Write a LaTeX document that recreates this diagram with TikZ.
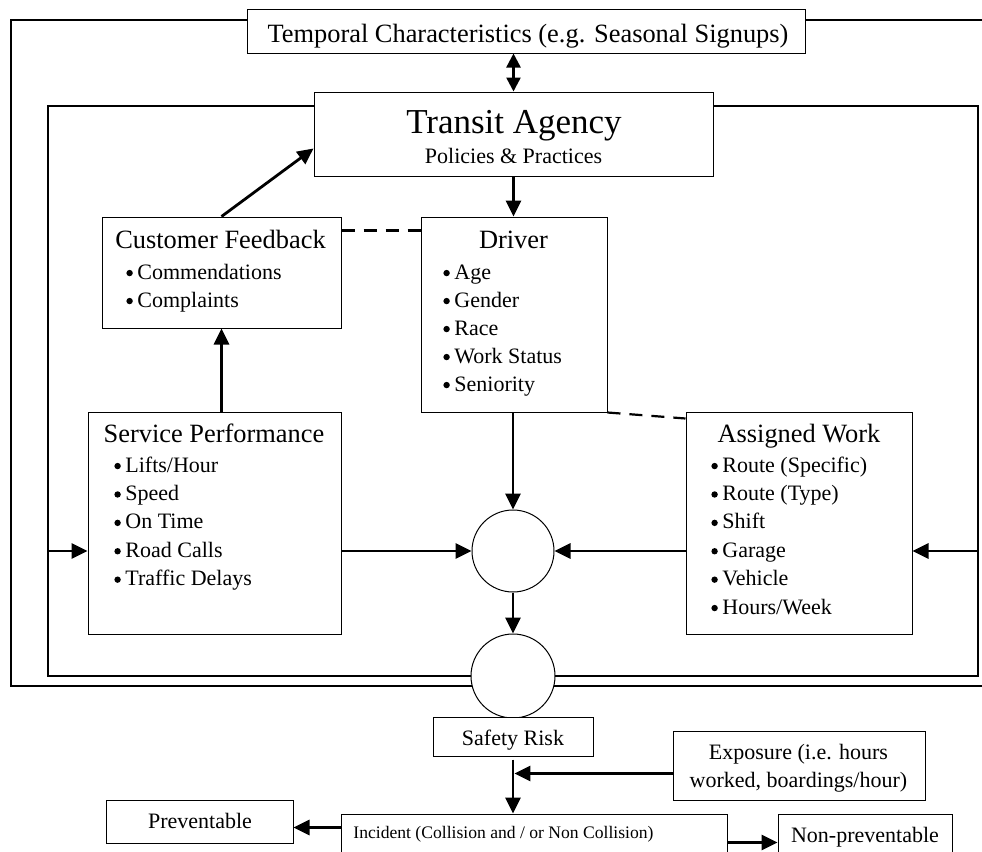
\documentclass[tikz,border=0pt]{standalone}
\usepackage{fontspec}
\setmainfont{Liberation Serif}
\usetikzlibrary{arrows.meta,calc}
\newcommand{\bul}{\tikz[baseline=0pt]\fill (1.6pt,0.27em) circle (1.6pt);\hspace{2.3pt}}
\begin{document}
\begin{tikzpicture}[x=0.5pt,y=-0.5pt,
  box/.style={draw,line width=0.5pt,fill=white,inner sep=0pt,rectangle},
  circ/.style={draw,line width=0.5pt,fill=white,inner sep=0pt,circle},
  frame/.style={line width=1pt},
  arr/.style={line width=1.4pt,-{Triangle[length=8pt,width=7.5pt]}},
  darr/.style={line width=1.2pt,{Triangle[length=7pt,width=7pt]}-{Triangle[length=7pt,width=7pt]}},
  dashline/.style={line width=1.1pt,dash pattern=on 6.5pt off 4.5pt},
  ttl/.style={font=\fontsize{13.2}{16}\selectfont,anchor=base,inner sep=0pt},
  big/.style={font=\fontsize{17.5}{21}\selectfont,anchor=base,inner sep=0pt},
  itm/.style={font=\fontsize{11}{13}\selectfont,anchor=base west,inner sep=0pt},
  txt/.style={font=\fontsize{11}{13}\selectfont,anchor=base,inner sep=0pt},
  sml/.style={font=\fontsize{8.8}{11}\selectfont,anchor=base west,inner sep=0pt}
]
\useasboundingbox (0,0) rectangle (982,852);
\clip (0,0) rectangle (982,852);
% frames
\coordinate (oTR) at (982,20); \coordinate (oTL) at (11,20);
\coordinate (oBL) at (11,686); \coordinate (oBR) at (982,686);
\draw[frame] (oTR) -- (oTL) -- (oBL) -- (oBR);
\coordinate (iTL) at (48,106); \coordinate (iBR) at (978,676);
\draw[frame] (iTL) rectangle (iBR);
% boxes
\node[box,minimum width=279pt,minimum height=22pt] (Temporal) at (526,31) {};
\node[box,minimum width=199.5pt,minimum height=42pt] (Transit) at (513.5,134) {};
\node[box,minimum width=119.5pt,minimum height=55.5pt] (CF) at (221.5,272.5) {};
\node[box,minimum width=93pt,minimum height=97.5pt] (Driver) at (514,314.5) {};
\node[box,minimum width=126.5pt,minimum height=111pt] (SP) at (214.5,523) {};
\node[box,minimum width=113pt,minimum height=111pt] (AW) at (799,523) {};
\node[circ,minimum size=41pt] (c1) at (513,551) {};
\node[circ,minimum size=42pt] (c2) at (513,676) {};
\node[box,minimum width=80pt,minimum height=19.5pt] (SR) at (513,736.5) {};
\node[box,minimum width=126pt,minimum height=34.5pt] (Expo) at (799,765.5) {};
\node[box,minimum width=193pt,minimum height=40pt] (Inc) at (534,854) {};
\node[box,minimum width=87pt,minimum height=40pt] (NP) at (865,854) {};
\node[box,minimum width=93.5pt,minimum height=21.5pt] (Prev) at (199.5,821.5) {};
% texts
\node[ttl] (tempt) at (528,42) {Temporal Characteristics (e.g. Seasonal Signups)};
\node[big] (trt) at (514,133) {Transit Agency};
\node[txt] (trs) at (513.5,163) {Policies \& Practices};
\node[ttl] (cft) at (220.5,248) {Customer Feedback};
\foreach \t [count=\i from 0] in {Commendations,Complaints}
  \node[itm] (cf\i) at (126,279+28*\i) {\bul\t};
\node[ttl] (drt) at (513.5,248) {Driver};
\foreach \t [count=\i from 0] in {Age,Gender,Race,Work Status,Seniority}
  \node[itm] (dr\i) at (443,279+28*\i) {\bul\t};
\node[ttl] (spt) at (214,442) {Service Performance};
\foreach \t [count=\i from 0] in {Lifts/Hour,Speed,On Time,Road Calls,Traffic Delays}
  \node[itm] (sp\i) at (114,472+28.4*\i) {\bul\t};
\node[ttl] (awt) at (799,442) {Assigned Work};
\foreach \t [count=\i from 0] in {{Route (Specific)},{Route (Type)},Shift,Garage,Vehicle,Hours/Week}
  \node[itm] (aw\i) at (711,472+28.4*\i) {\bul\t};
\node[txt] (srt) at (513,745) {Safety Risk};
\node[txt] (ex1) at (798.5,759) {Exposure (i.e. hours};
\node[txt] (ex2) at (798.5,787) {worked, boardings/hour)};
\node[txt] (prt) at (200,828) {Preventable};
\node[sml] (inct) at (353,838) {Incident (Collision and / or Non Collision)};
\node[txt] (npt) at (865,842) {Non-preventable};
% connectors
\draw[darr] (Transit.north) -- (Transit.north |- Temporal.south);
\draw[arr] (Transit.south) -- (Transit.south |- Driver.north);
\draw[arr] (CF.north) -- ($(Transit.south west)+(0,-28)$);
\draw[dashline] ($(CF.north east)+(0,14)$) -- ($(Driver.north west)+(0,14)$);
\draw[dashline] (Driver.south east) -- ($(AW.north west)+(0,7)$);
\draw[arr] (CF.south |- SP.north) -- (CF.south);
\draw[arr] (c1.north |- Driver.south) -- (c1.north);
\draw[arr] (c1.south) -- (c2.north);
\draw[arr] (c1.west -| SP.east) -- (c1.west);
\draw[arr] (c1.east -| AW.west) -- (c1.east);
\coordinate (iL) at (48,551); \coordinate (iR) at (978,551);
\draw[arr] (iL) -- (iL -| SP.west);
\draw[arr] (iR) -- (iR -| AW.east);
\draw[arr] ($(SR.south)+(0,3)$) -- (SR.south |- Inc.north);
\coordinate (ej) at ($(Expo.west)+(0,8)$);
\draw[arr,shorten >=0.7pt] (ej) -- (ej -| SR.south);
\coordinate (pj) at ($(Inc.north west)+(0,14)$);
\draw[arr] (pj) -- (pj -| Prev.east);
\coordinate (nj) at ($(Inc.north east)+(0,29)$);
\draw[arr] (nj) -- (nj -| NP.west);
\end{tikzpicture}
\end{document}
